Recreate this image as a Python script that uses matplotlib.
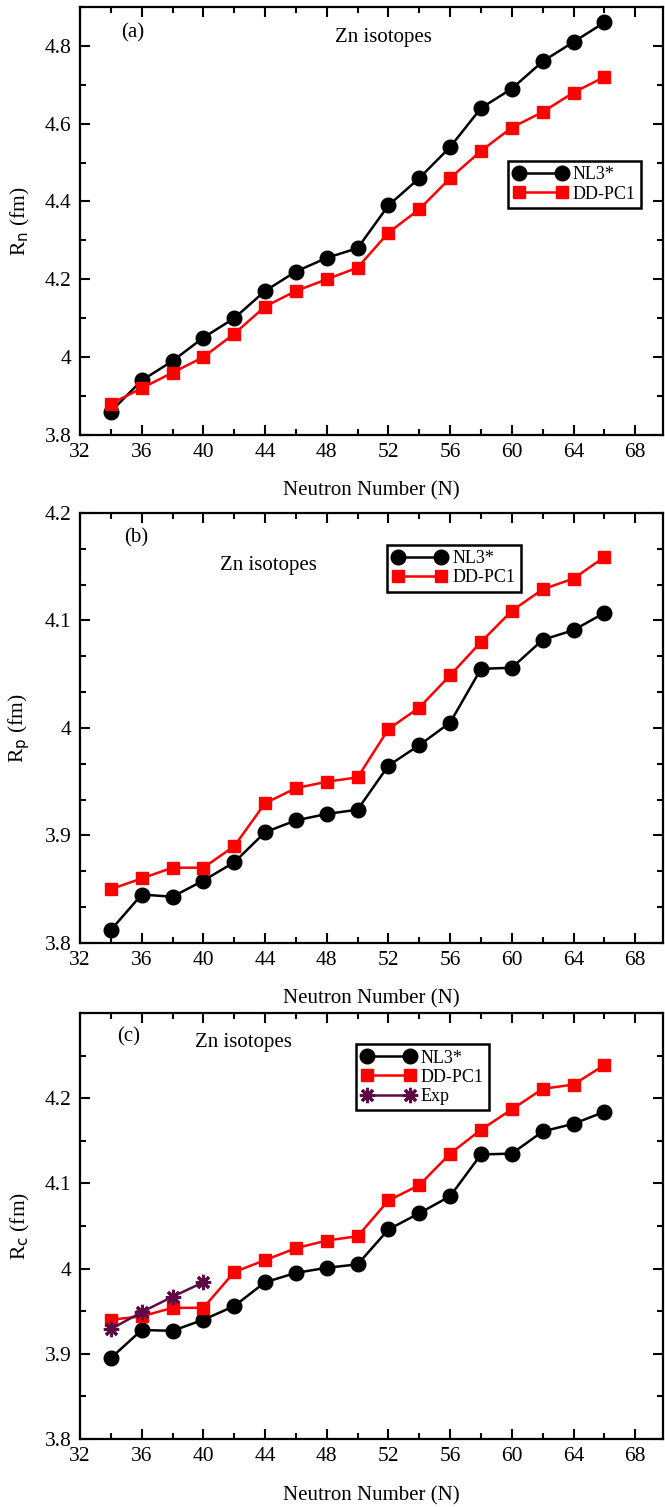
import matplotlib
matplotlib.use('Agg')
import matplotlib.pyplot as plt
from matplotlib.ticker import MultipleLocator, FormatStrFormatter, FixedLocator

plt.rcParams['font.family'] = ['Liberation Serif', 'DejaVu Serif']

N = [34, 36, 38, 40, 42, 44, 46, 48, 50, 52, 54, 56, 58, 60, 62, 64, 66]

rn_nl3 = [3.86, 3.94, 3.99, 4.05, 4.10, 4.17, 4.22, 4.255, 4.28, 4.39, 4.46,
          4.54, 4.64, 4.69, 4.76, 4.81, 4.86]
rn_ddpc1 = [3.88, 3.92, 3.96, 4.00, 4.06, 4.13, 4.17, 4.20, 4.23, 4.32, 4.38,
            4.46, 4.53, 4.59, 4.63, 4.68, 4.72]

rp_nl3 = [3.812, 3.845, 3.843, 3.858, 3.875, 3.903, 3.914, 3.920, 3.924, 3.965,
          3.984, 4.005, 4.055, 4.056, 4.082, 4.091, 4.107]
rp_ddpc1 = [3.850, 3.860, 3.870, 3.870, 3.890, 3.930, 3.944, 3.950, 3.954, 3.999,
            4.019, 4.049, 4.080, 4.109, 4.129, 4.139, 4.159]

rc_nl3 = [3.895, 3.928, 3.927, 3.940, 3.956, 3.984, 3.995, 4.001, 4.005, 4.046,
          4.065, 4.085, 4.134, 4.135, 4.161, 4.170, 4.184]
rc_ddpc1 = [3.940, 3.944, 3.954, 3.954, 3.996, 4.010, 4.024, 4.033, 4.038, 4.080,
            4.098, 4.135, 4.163, 4.187, 4.211, 4.216, 4.239]
N_exp = [34, 36, 38, 40]
rc_exp = [3.929, 3.949, 3.967, 3.984]

fig = plt.figure(figsize=(6.65, 15.07), dpi=100)

left, width = 0.1203, 0.8767
ax_a = fig.add_axes([left, 0.7114, width, 0.284])
ax_b = fig.add_axes([left, 0.3743, width, 0.2853])
ax_c = fig.add_axes([left, 0.0451, width, 0.2827])


def style(ax, ylim, ymaj, ymin, ylab):
    ax.set_xlim(32, 69.8)
    ax.set_ylim(*ylim)
    ax.xaxis.set_major_locator(MultipleLocator(4))
    ax.xaxis.set_minor_locator(MultipleLocator(2))
    ax.yaxis.set_major_locator(FixedLocator(ymaj))
    ax.yaxis.set_minor_locator(MultipleLocator(ymin))
    ax.yaxis.set_major_formatter(FormatStrFormatter('%g'))
    ax.tick_params(which='both', direction='in', top=True, right=True,
                   width=1.5, labelsize=15.5)
    ax.tick_params(which='major', length=7, pad=6)
    ax.tick_params(which='minor', length=4)
    for s in ax.spines.values():
        s.set_linewidth(1.6)
    ax.set_xlabel('Neutron Number (N)', fontsize=15, labelpad=14)
    ax.set_ylabel(ylab, fontsize=15.5)
    ax.yaxis.set_label_coords(-0.083, 0.5)


def series(ax, x, y1, y2):
    ax.plot(x, y1, '-o', color='black', lw=1.8, ms=10.5, label='NL3*')
    ax.plot(x, y2, '-s', color='red', lw=1.8, ms=9, label='DD-PC1')


def legend(ax, x, y):
    leg = ax.legend(loc='upper left', bbox_to_anchor=(x, y), numpoints=2,
                    fontsize=13, handlelength=3.0, handletextpad=0.3,
                    labelspacing=0.12, borderpad=0.3, fancybox=False,
                    edgecolor='black', framealpha=1, borderaxespad=0)
    leg.get_frame().set_linewidth(1.8)


# (a) neutron radius
series(ax_a, N, rn_nl3, rn_ddpc1)
style(ax_a, (3.8, 4.9), [3.8, 4.0, 4.2, 4.4, 4.6, 4.8], 0.1, r'R$_{\rm n}$ (fm)')
legend(ax_a, 0.734, 0.64)
ax_a.text(0.07, 0.94, '(a)', transform=ax_a.transAxes, fontsize=15, va='center')
ax_a.text(0.52, 0.928, 'Zn isotopes', transform=ax_a.transAxes, fontsize=15,
          va='center', ha='center')

# (b) proton radius
series(ax_b, N, rp_nl3, rp_ddpc1)
style(ax_b, (3.8, 4.2), [3.8, 3.9, 4.0, 4.1, 4.2], 0.1 / 3, r'R$_{\rm p}$ (fm)')
legend(ax_b, 0.527, 0.926)
ax_b.text(0.075, 0.942, '(b)', transform=ax_b.transAxes, fontsize=15, va='center')
ax_b.text(0.324, 0.879, 'Zn isotopes', transform=ax_b.transAxes, fontsize=15,
          va='center', ha='center')

# (c) charge radius
series(ax_c, N, rc_nl3, rc_ddpc1)
ax_c.plot(N_exp, rc_exp, '-', color='#5e0a45', lw=1.8, marker=(8, 2, 0),
          ms=11, mew=2.2, label='Exp')
style(ax_c, (3.8, 4.3), [3.8, 3.9, 4.0, 4.1, 4.2], 0.05, r'R$_{\rm c}$ (fm)')
legend(ax_c, 0.473, 0.927)
ax_c.text(0.063, 0.944, '(c)', transform=ax_c.transAxes, fontsize=15, va='center')
ax_c.text(0.28, 0.93, 'Zn isotopes', transform=ax_c.transAxes, fontsize=15,
          va='center', ha='center')

fig.savefig('out.png', dpi=100)
